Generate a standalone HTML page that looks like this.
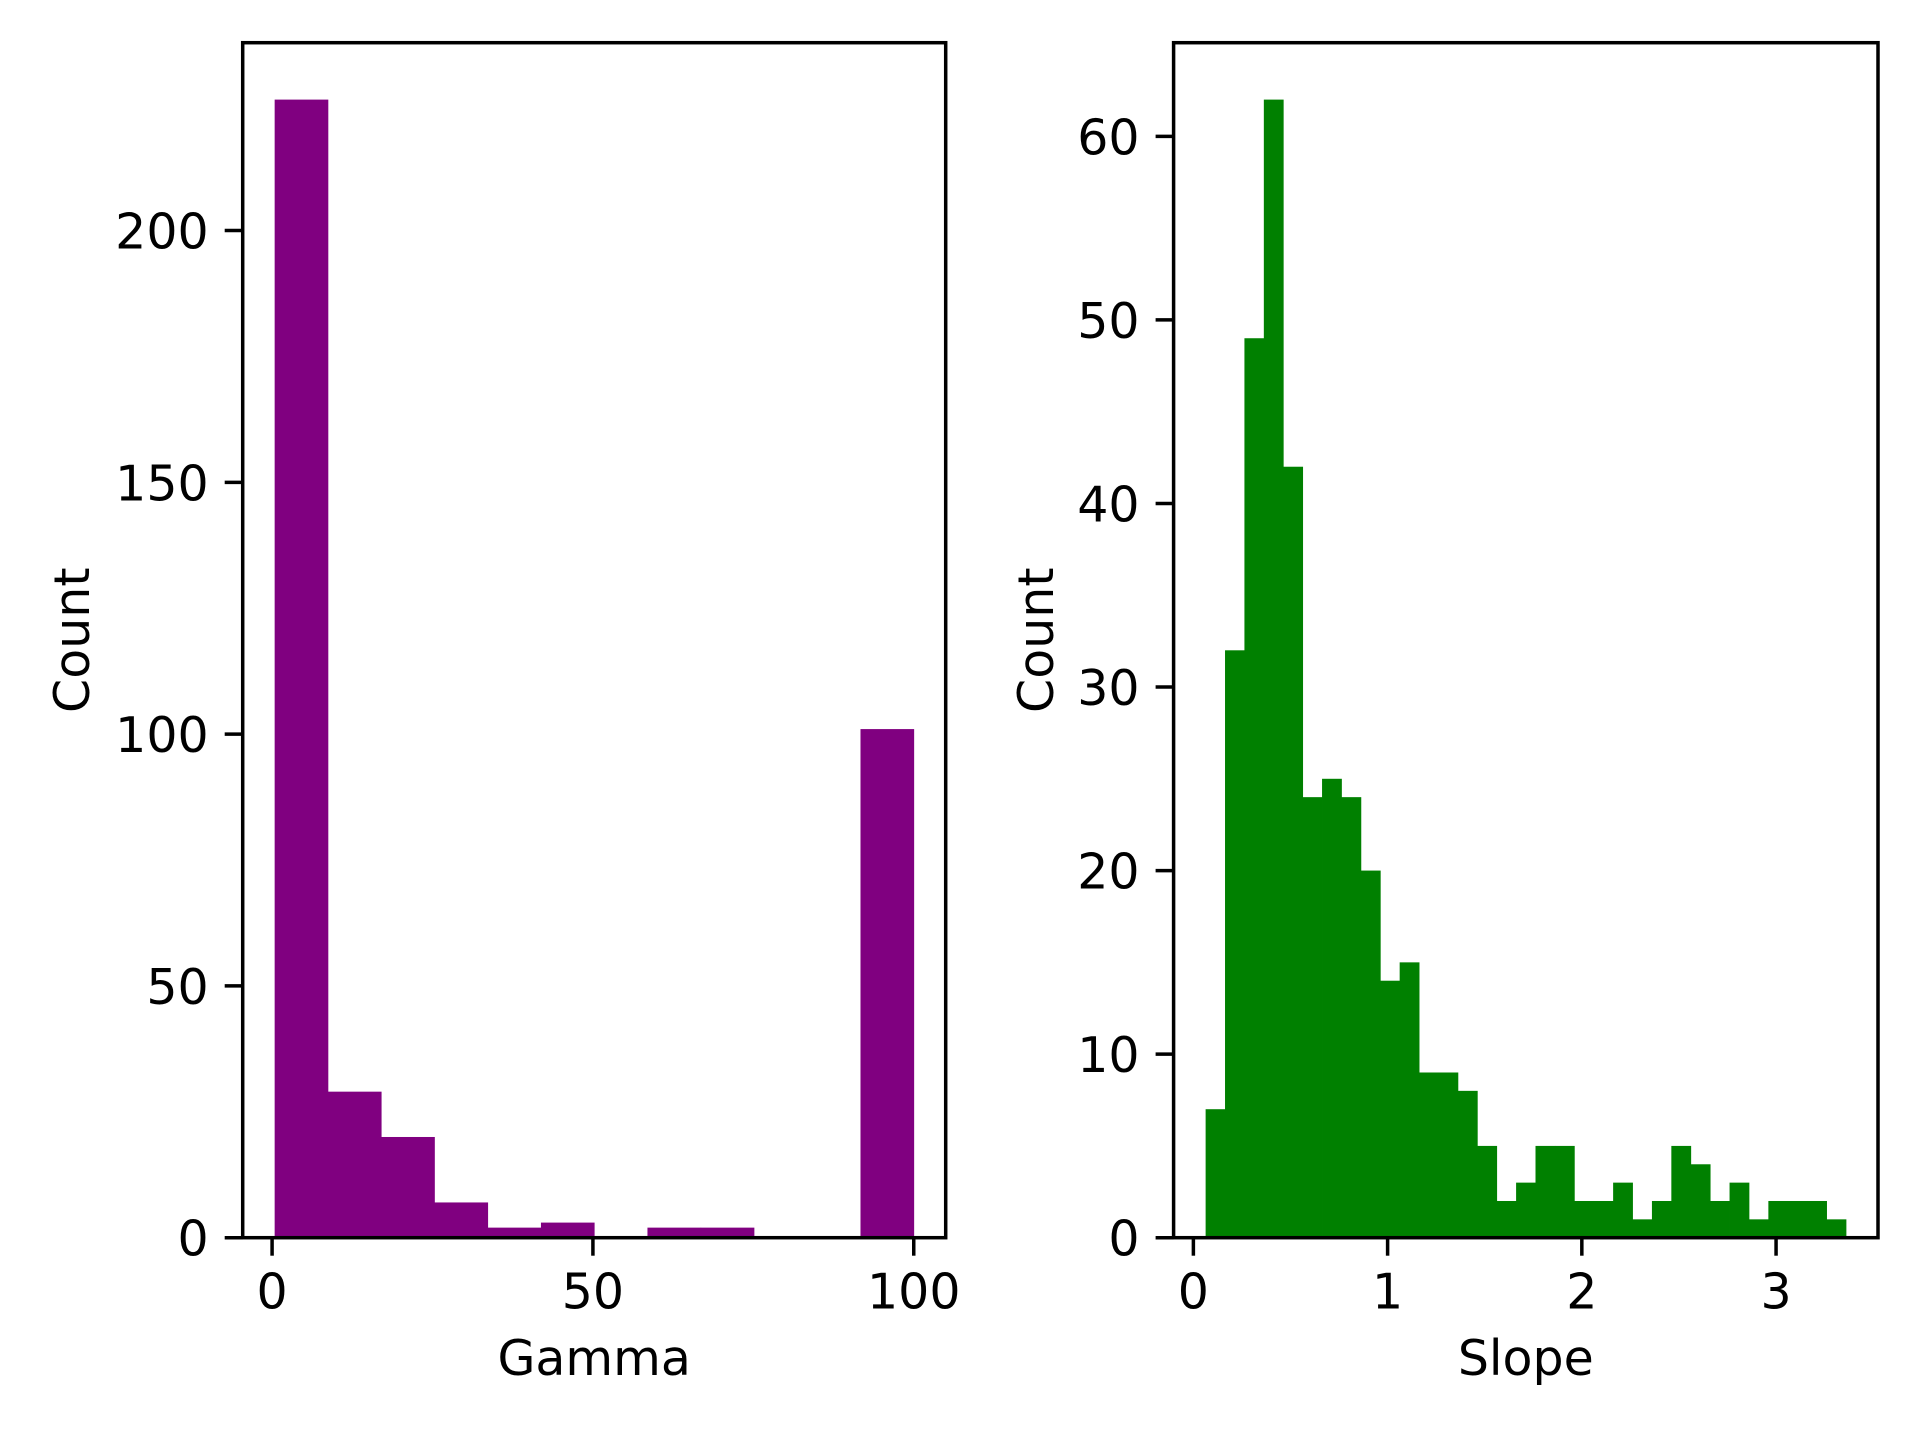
<!DOCTYPE html>
<html><head><meta charset="utf-8"><style>
html,body{margin:0;padding:0;background:#fff;}
svg{display:block;font-family:"DejaVu Sans","Liberation Sans",sans-serif;}
</style></head><body>
<svg id="fig" width="1920" height="1440" viewBox="0 0 1920 1440" xmlns="http://www.w3.org/2000/svg">
<rect width="1920" height="1440" fill="#fff"/>
</svg>
<script>
// Gamma histogram data
const gammaEdgesMin = 0.4;
const gammaEdgesMax = 100;
const gammaCounts = [226, 29, 20, 7, 2, 3, 0, 2, 2, 0, 0, 101];
const gammaYTicks = [0, 50, 100, 150, 200];
const gammaXTicks = [0, 50, 100];
// Slope histogram data
const slopeEdgesMin = 0.063;
const slopeEdgesMax = 3.36;
const slopeCounts = [7, 32, 49, 62, 42, 24, 25, 24, 20, 14, 15, 9, 9, 8, 5, 2, 3, 5, 5, 2, 2, 3, 1, 2, 5, 4, 2, 3, 1, 2, 2, 2, 1];
const slopeYTicks = [0, 10, 20, 30, 40, 50, 60];
const slopeXTicks = [0, 1, 2, 3];

const NS = "http://www.w3.org/2000/svg";
const svg = document.getElementById('fig');
function mk(tag, attrs, parent) {
  const e = document.createElementNS(NS, tag);
  for (const k in attrs) e.setAttribute(k, attrs[k]);
  (parent || svg).appendChild(e);
  return e;
}
const FS = 49, TL = 18, PAD = 16;

function drawPanel(box, edgesMin, edgesMax, counts, xTicks, yTicks, color, xlabel, prefix) {
  const g = mk('g', {});
  
  
  const range = edgesMax - edgesMin;
  const x0 = edgesMin - 0.05 * range, x1 = edgesMax + 0.05 * range;
  const ymax = Math.max(...counts) * 1.05;
  const sx = v => box.l + (v - x0) / (x1 - x0) * (box.r - box.l);
  const sy = v => box.b - v / ymax * (box.b - box.t);
  const n = counts.length, w = range / n;
  counts.forEach((c, i) => {
    if (c <= 0) return;
    const a = sx(edgesMin + i * w), b = sx(edgesMin + (i + 1) * w);
    const r = mk('rect', {x: a, y: sy(c), width: b - a + 0.4, height: sy(0) - sy(c), fill: color}, g);
    
    
  });
  const frame = mk('rect', {x: box.l, y: box.t, width: box.r - box.l, height: box.b - box.t, fill: 'none', stroke: '#000', 'stroke-width': 3.5}, g);
  
  
  yTicks.forEach(t => {
    const y = sy(t);
    mk('line', {x1: box.l - TL, x2: box.l, y1: y, y2: y, stroke: '#000', 'stroke-width': 3.5}, g);
    const tx = mk('text', {x: box.l - TL - PAD, y: y + 18, 'font-size': FS, 'text-anchor': 'end', fill: '#000'}, g);
    tx.textContent = t;
    
    
  });
  xTicks.forEach(t => {
    const x = sx(t);
    mk('line', {x1: x, x2: x, y1: box.b, y2: box.b + TL, stroke: '#000', 'stroke-width': 3.5}, g);
    const tx = mk('text', {x: x, y: box.b + TL + PAD + 37, 'font-size': FS, 'text-anchor': 'middle', fill: '#000'}, g);
    tx.textContent = t;
    
    
  });
  const xl = mk('text', {x: (box.l + box.r) / 2, y: 1375, 'font-size': FS, 'text-anchor': 'middle', fill: '#000'}, g);
  xl.textContent = xlabel;
  
  
  const cy = (box.t + box.b) / 2, cx = box.ylabelX;
  const yl = mk('text', {x: cx, y: cy, 'font-size': FS, 'text-anchor': 'middle', fill: '#000', transform: 'rotate(-90 ' + cx + ' ' + cy + ')'}, g);
  yl.textContent = 'Count';
  
  
}

drawPanel({l: 242.7, r: 945.7, t: 42.7, b: 1237.7, ylabelX: 89}, gammaEdgesMin, gammaEdgesMax, gammaCounts, gammaXTicks, gammaYTicks, '#800080', 'Gamma', 'gamma');
drawPanel({l: 1173.6, r: 1878, t: 42.7, b: 1237.7, ylabelX: 1053}, slopeEdgesMin, slopeEdgesMax, slopeCounts, slopeXTicks, slopeYTicks, '#008000', 'Slope', 'slope');
</script>
</body></html>
